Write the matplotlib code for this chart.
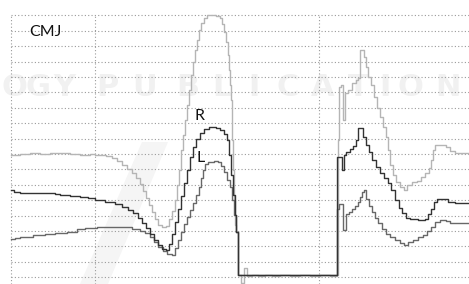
import matplotlib
matplotlib.use("Agg")
import matplotlib.pyplot as plt

# ---- data (time in samples, force in arbitrary units) ----
light_t = [11, 15, 20, 30, 40, 50, 60, 70, 80, 90, 95, 100, 106, 112, 117, 122, 127, 132, 136, 140,
           143, 146, 149, 152, 155, 158, 162, 166, 169, 172, 175, 177, 179, 181, 183, 185, 187, 189,
           191, 193, 195, 197, 199, 201, 204, 207, 212, 216, 220, 222, 224, 226, 228, 229, 230, 231,
           232, 233, 234, 235, 236, 238,
           241, 244, 247, 252, 258, 265, 272, 280, 290, 300, 310, 320, 330, 337,
           338, 339, 341, 343, 345, 348, 352, 356, 358, 360, 362, 364, 366, 368, 371, 374, 377, 380,
           383, 386, 388, 390, 393, 396, 400, 404, 407, 412, 417, 421, 425, 429, 431, 433, 435, 440,
           446, 450, 455, 469]
light_v = [129, 129, 130, 131, 130, 131, 131, 130, 129, 130, 129, 129, 128, 126, 123, 119, 115, 111, 106, 100,
           93, 86, 79, 72, 65, 59, 57, 58, 65, 73, 84, 99, 114, 134, 149, 164, 179, 194,
           209, 222, 234, 244, 254, 261, 266, 269, 269, 268, 266, 260, 252, 242, 229, 214, 199, 184,
           144, 114, 84, 59, 52, 9,
           1, 16, 8, 9, 8, 9, 8, 9, 8, 9, 8, 9, 8, 9,
           144, 197, 199, 164, 191, 194, 201, 204, 206, 234, 234, 227, 217, 207, 199, 187, 176, 167,
           157, 147, 134, 119, 109, 102, 97, 94, 99, 102, 103, 107, 111, 116, 124, 134, 139, 139,
           137, 133, 131, 131]

r_t = [11, 14, 20, 40, 55, 60, 70, 80, 88, 95, 105, 115, 122, 128, 133, 138, 142, 146, 150, 154,
       158, 162, 166, 169, 172, 175, 178, 181, 184, 187, 190, 193, 196, 200, 204, 209,
       216, 220, 224, 227, 229, 231, 233, 235, 236, 238,
       337, 342, 344, 346, 350, 353, 356, 358, 361, 363, 366, 369, 372, 376, 380, 384, 388, 391,
       395, 399, 402, 406, 410, 418, 425, 428, 431, 434, 437, 443, 448, 455, 469]
r_v = [94, 92, 91, 91, 90, 89, 88, 87, 86, 84, 82, 80, 77, 74, 71, 66, 61, 56, 50, 44,
       39, 35, 34, 40, 50, 62, 75, 88, 101, 114, 127, 137, 145, 151, 155, 157,
       156, 154, 150, 144, 129, 109, 89, 69, 52, 9,
       127, 114, 129, 132, 135, 138, 144, 156, 156, 147, 139, 132, 124, 117, 111, 106, 101, 94,
       84, 76, 71, 66, 65, 64, 65, 70, 75, 82, 85, 85, 82, 81, 81]

l_t = [11, 15, 20, 33, 45, 55, 67, 77, 85, 97, 110, 127, 132, 140, 145, 150, 154, 158, 163, 167,
       172, 175, 178, 181, 184, 187, 190, 193, 196, 199, 201, 203, 205, 208, 214, 218, 221, 224,
       227, 230, 232, 234, 236, 238,
       337, 339, 343, 346, 349, 352, 355, 358, 360, 362, 364, 366, 369, 372, 375, 378, 382, 386,
       390, 395, 400, 404, 408, 413, 418, 423, 427, 431, 435, 440, 446, 450, 469]
l_v = [45, 46, 47, 49, 50, 51, 52, 55, 56, 57, 57, 57, 55, 53, 51, 47, 42, 37, 33, 30,
       29, 36, 44, 52, 60, 67, 74, 81, 89, 97, 106, 114, 120, 122, 123, 122, 118, 112,
       104, 97, 84, 69, 52, 9,
       75, 80, 54, 70, 72, 75, 78, 82, 87, 92, 94, 85, 78, 72, 66, 61, 55, 50,
       47, 44, 41, 39, 42, 44, 47, 49, 53, 57, 62, 64, 63, 61, 61]

labels = {"CMJ": (29, 252), "R": (195, 168), "L": (196, 126)}

# ---- figure ----
fig = plt.figure(figsize=(4.69, 2.84), dpi=100)
ax = fig.add_axes([0, 0, 1, 1])
ax.set_xlim(0, 469)
ax.set_ylim(0, 284)
ax.axis("off")

# faint watermark
wm_letters = list("OGYPUBLICATION")
wm_x = [14, 38, 64, 107, 145, 188, 222, 254, 288, 323, 358, 385, 410, 448]
for ch, xx in zip(wm_letters, wm_x):
    ax.text(xx, 197, ch, fontsize=22, fontweight="bold", color="#f1f1f1",
            ha="center", va="center", zorder=0)
ax.fill([80, 108, 168, 142], [0, 0, 142, 142], color="#f5f5f5", zorder=0, lw=0)

# grid
for k in range(18):
    y = 284 - (15.4 + 15.4 * k)
    ax.plot([11, 469], [y, y], color="#9a9a9a", lw=0.8, ls=(0, (1, 2)), zorder=1)
for xg in [11, 95, 319]:
    ax.plot([xg, xg], [0, 284 - 15.4], color="#9a9a9a", lw=0.8, ls=(0, (1, 2)), zorder=1)

ax.plot(light_t, light_v, drawstyle="steps-post", color="#b5b5b5", lw=1.0, zorder=2)
ax.plot(l_t, l_v, drawstyle="steps-post", color="#686868", lw=1.0, zorder=3)
ax.plot(r_t, r_v, drawstyle="steps-post", color="#333333", lw=1.0, zorder=4)

for txt, (xx, yy) in labels.items():
    ax.text(xx, yy, txt, fontsize=11.5, family="Lato", color="#111111",
            ha="left", va="center", zorder=5)

fig.savefig("out.png", dpi=100)
